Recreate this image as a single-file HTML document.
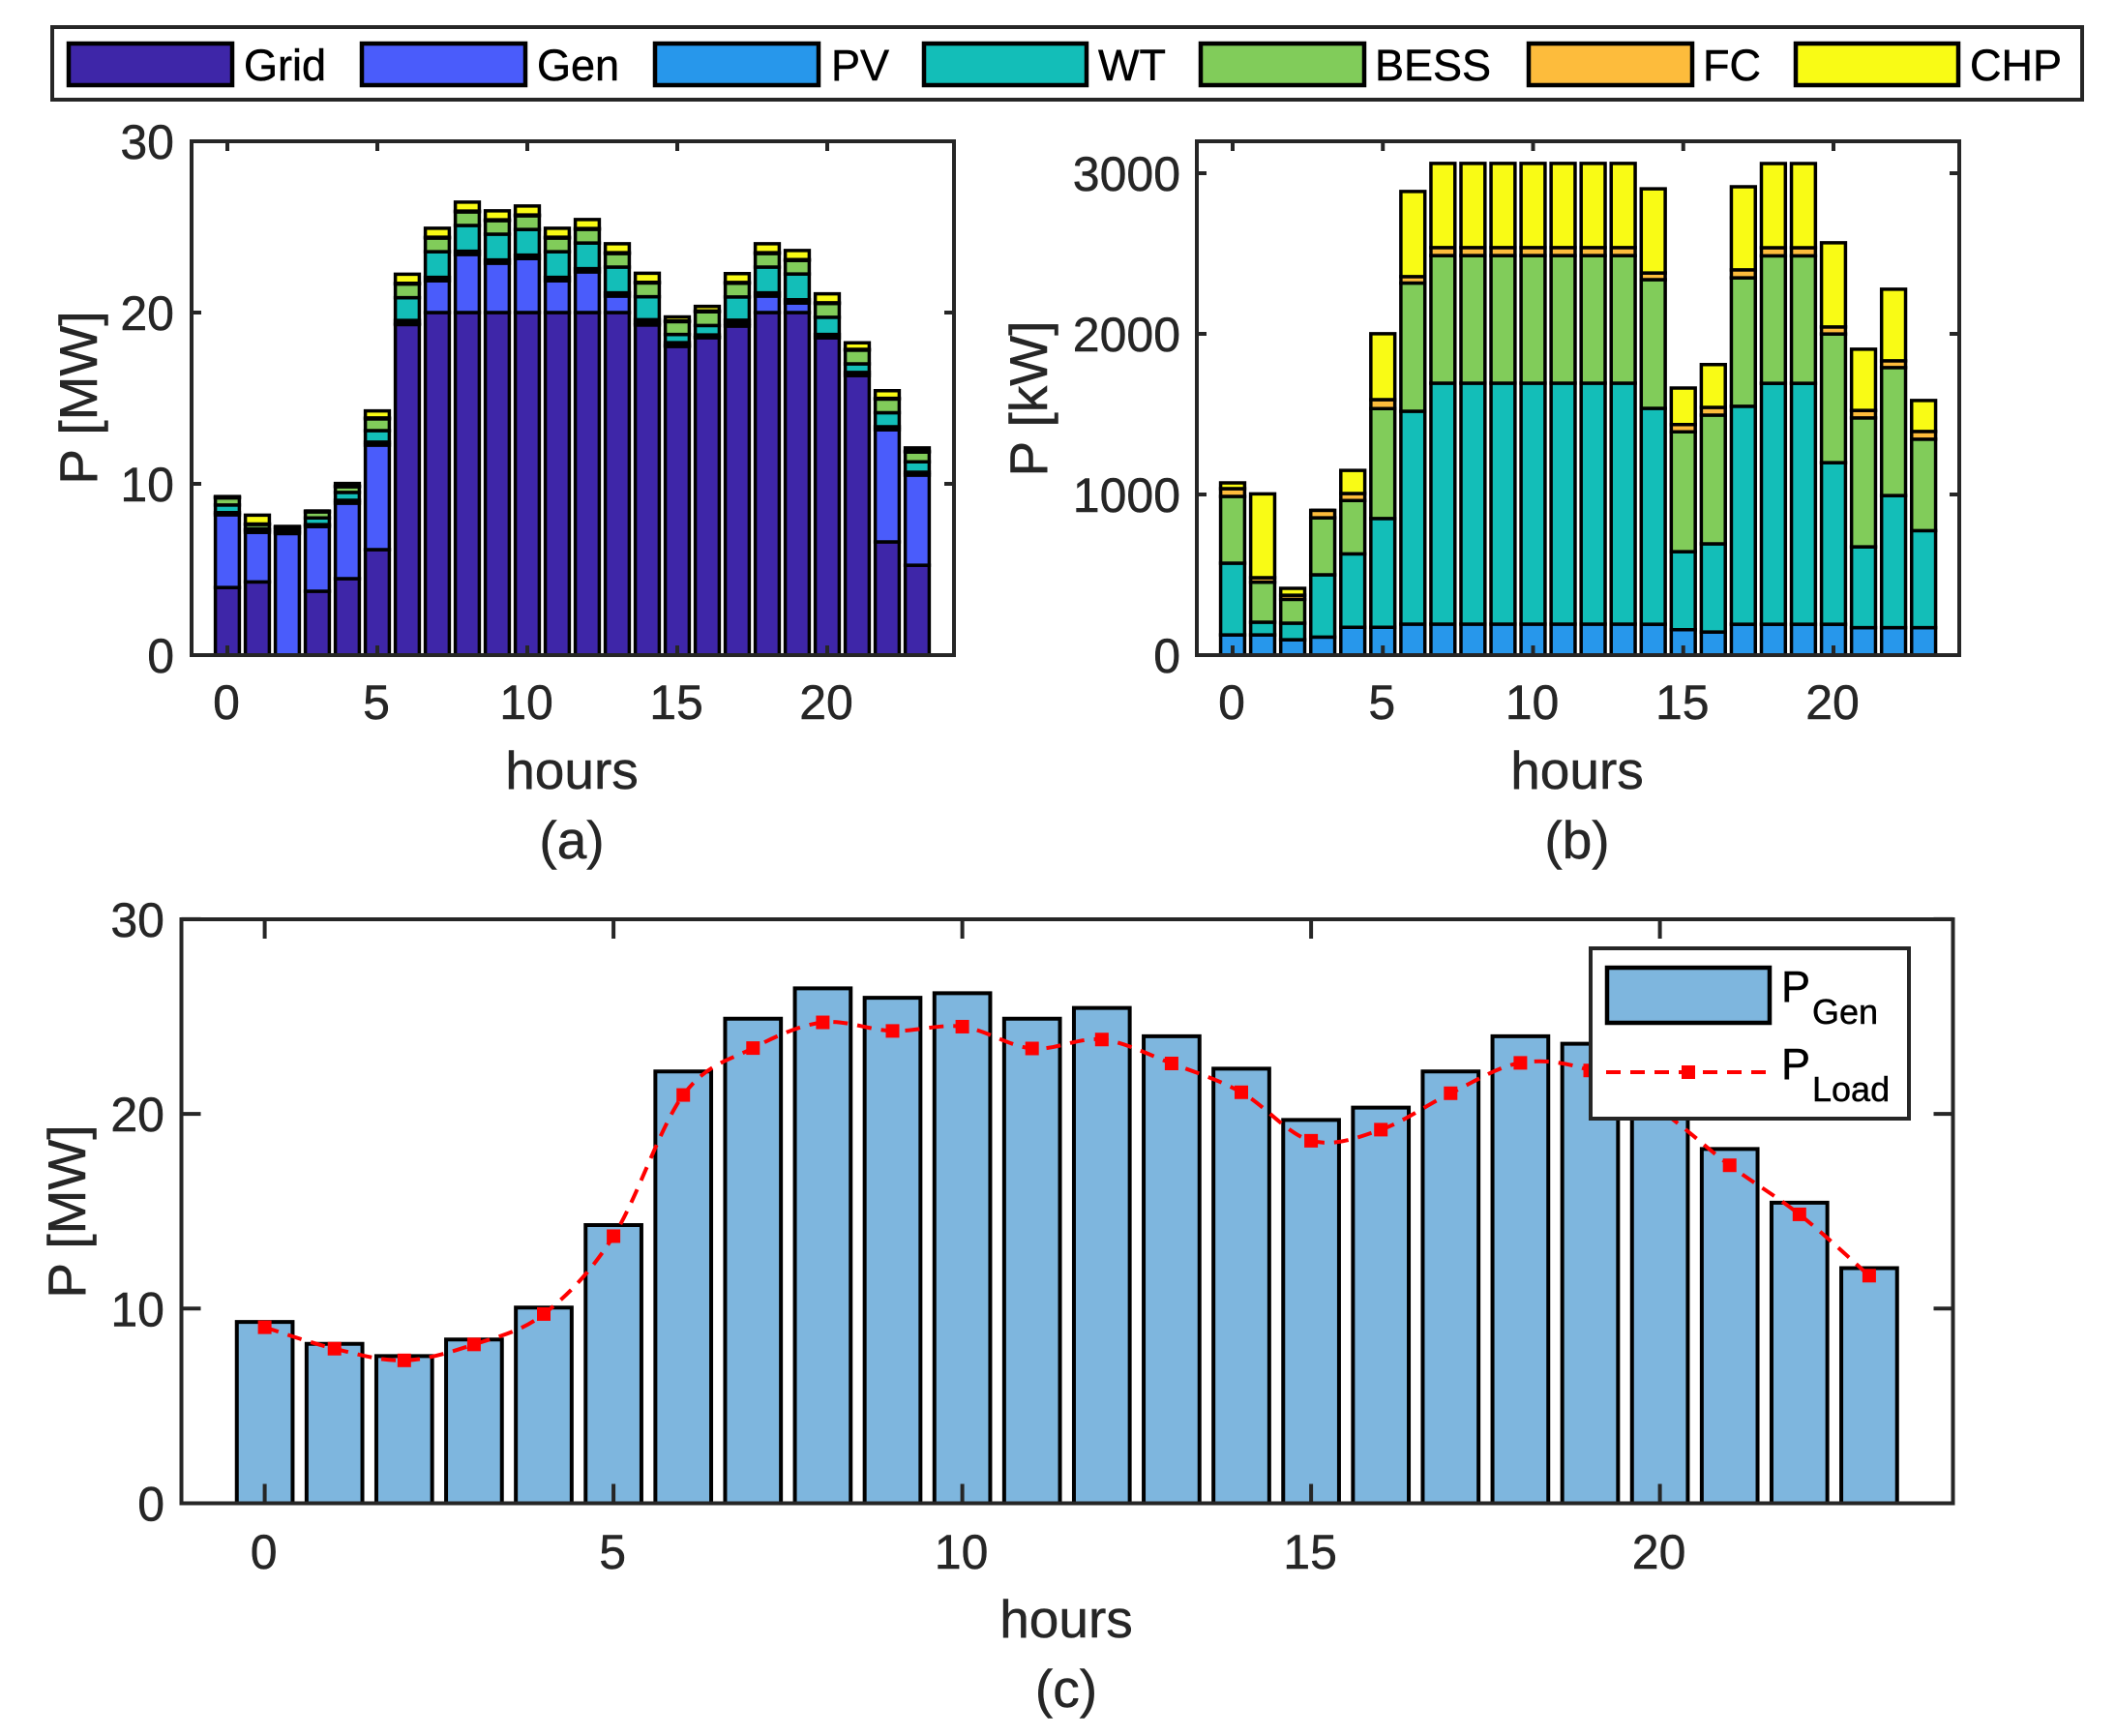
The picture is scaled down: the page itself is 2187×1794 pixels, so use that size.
<!DOCTYPE html>
<html lang="en">
<head>
<meta charset="utf-8">
<title>Power dispatch chart</title>
<style>
html,body{margin:0;padding:0;background:#fff;}
svg{display:block;}
text{font-family:"Liberation Sans",Arial,sans-serif;fill:#262626;stroke:#262626;stroke-width:.5px;}
.leg{font-size:45px;fill:#000;stroke:#000;}
.tick{font-size:50px;}
.lab{font-size:55px;}
.sub{font-size:36px;fill:#000;stroke:#000;}
</style>
</head>
<body>
<svg id="fig" xmlns="http://www.w3.org/2000/svg" width="2187" height="1794" viewBox="0 0 2187 1794">
  <rect x="0" y="0" width="2187" height="1794" fill="#fff"/>
  <g id="panelA"></g>
  <g id="panelB"></g>
  <g id="panelC"></g>

  <g>
    <rect x="54" y="28" width="2098" height="75" fill="#fff" stroke="#262626" stroke-width="4"/>
    <rect x="71" y="45" width="169" height="43" fill="#3E26A8" stroke="#000" stroke-width="4.5"/>
    <text class="leg" x="252" y="83">Grid</text>
    <rect x="374" y="45" width="169" height="43" fill="#4A5CFB" stroke="#000" stroke-width="4.5"/>
    <text class="leg" x="555" y="83">Gen</text>
    <rect x="677" y="45" width="169" height="43" fill="#2797EB" stroke="#000" stroke-width="4.5"/>
    <text class="leg" x="859" y="83">PV</text>
    <rect x="955" y="45" width="168" height="43" fill="#13BEB8" stroke="#000" stroke-width="4.5"/>
    <text class="leg" x="1135" y="83">WT</text>
    <rect x="1241" y="45" width="169" height="43" fill="#81CC5A" stroke="#000" stroke-width="4.5"/>
    <text class="leg" x="1421" y="83">BESS</text>
    <rect x="1580" y="45" width="169" height="43" fill="#FDBC3C" stroke="#000" stroke-width="4.5"/>
    <text class="leg" x="1760" y="83">FC</text>
    <rect x="1856" y="45" width="168" height="43" fill="#F9FB15" stroke="#000" stroke-width="4.5"/>
    <text class="leg" x="2036" y="83">CHP</text>
  </g>

  <g id="legendC">
    <rect x="1644" y="980" width="329" height="176" fill="#fff" stroke="#262626" stroke-width="4"/>
    <rect x="1661" y="1000" width="168" height="57" fill="#7EB6DE" stroke="#000" stroke-width="4.5"/>
    <text class="leg" x="1841" y="1035">P</text>
    <text class="sub" x="1873" y="1058">Gen</text>
    <line x1="1660" y1="1108" x2="1830" y2="1108" stroke="#f00" stroke-width="4" stroke-dasharray="15 10"/>
    <rect x="1738" y="1101" width="14" height="14" fill="#f00"/>
    <text class="leg" x="1841" y="1115">P</text>
    <text class="sub" x="1873" y="1138">Load</text>
  </g>
</svg>

<script>
// ---- data (hourly values) ----
const hours = [0,1,2,3,4,5,6,7,8,9,10,11,12,13,14,15,16,17,18,19,20,21,22,23];
// MW
const gridMW = [3.95,4.27,0,3.73,4.46,6.16,19.3,20,20,20,20,20,20,20,19.27,18.02,18.53,19.21,20,20,18.53,16.33,6.61,5.25];
const genMW  = [4.24,2.9,7.1,3.78,4.41,6.1,0.05,1.86,3.39,2.88,3.16,1.86,2.37,0.96,0.12,0.06,0.02,0.15,0.96,0.56,0,0,6.55,5.26];
// kW
const pvKW   = [126,126,96,112,173,173,193,193,193,193,193,193,193,193,192,158,144,192,192,192,192,171,171,171];
const wtKW   = [446,79,103,388,457,677,1325,1500,1500,1500,1500,1500,1500,1500,1344,486,549,1357,1500,1500,1006,503,822,604];
const bessKW = [416,249,148,355,332,685,798,794,794,794,794,794,794,794,801,746,801,800,794,794,801,803,797,569];
const fcKW   = [48,28,26,46,44,55,40,50,50,50,50,50,50,50,42,45,48,49,50,50,44,46,42,48];
const chpKW  = [36,522,43,0,144,411,530,524,524,524,524,524,524,524,524,228,267,518,524,524,524,381,446,193];
// panel (c)
const pGenMW  = [9.31,8.19,7.56,8.41,10.05,14.29,22.18,24.89,26.45,25.96,26.2,24.89,25.44,23.99,22.32,19.69,20.32,22.18,23.99,23.6,21.1,18.2,15.44,12.08];
const pLoadMW = [9.04,7.94,7.34,8.16,9.72,13.72,20.97,23.38,24.7,24.26,24.48,23.36,23.82,22.59,21.11,18.62,19.19,21.06,22.62,22.23,20.2,17.36,14.84,11.69];
// ticks
const xTicks = [0,5,10,15,20];
const yTicksAC = [0,10,20,30];
const yTicksB = [0,1000,2000,3000];

const seriesNames = ['grid','gen','pv','wt','bess','fc','chp'];
const seriesColors = ['#3E26A8','#4A5CFB','#2797EB','#13BEB8','#81CC5A','#FDBC3C','#F9FB15'];
const SVGNS = 'http://www.w3.org/2000/svg';

function mk(parent, tag, attrs, txt){
  const el = document.createElementNS(SVGNS, tag);
  for (const k in attrs) el.setAttribute(k, attrs[k]);
  if (txt !== undefined) el.textContent = txt;
  parent.appendChild(el);
  return el;
}
function scaleX(p, v){ return p.x0 + p.ux * v; }
function scaleY(p, v){ return p.y0 - p.uy * v; }

function barSeg(parent, p, h, v0, v1, fill, name){
  const w = p.ux * 0.4;
  const xc = scaleX(p, h);
  const d = 'M' + (xc-w) + ' ' + scaleY(p,v0) + 'H' + (xc+w) + 'V' + scaleY(p,v1) + 'H' + (xc-w) + 'Z';
  const el = mk(parent, 'path', {d:d, fill:fill, stroke:'#000', 'stroke-width':p.barLw, 'stroke-linejoin':'miter'});
  
  
  return el;
}

function axes(parent, p){
  const tl = p.tickLen;
  const yb = p.y0, yt = p.top, xl = p.left, xr = p.right;
  const frame = mk(parent, 'rect', {x:xl, y:yt, width:xr-xl, height:yb-yt, fill:'none', stroke:'#262626', 'stroke-width':p.lw});
  
  
  p.xTicks.forEach(function(t){
    const x = scaleX(p, t);
    const m1 = mk(parent, 'line', {x1:x, x2:x, y1:yb, y2:yb-tl, stroke:'#262626', 'stroke-width':p.lw});
    
    
    const m2 = mk(parent, 'line', {x1:x, x2:x, y1:yt, y2:yt+tl, stroke:'#262626', 'stroke-width':p.lw});
    
    
    const lb = mk(parent, 'text', {x:x-1, y:p.xLabelY, 'text-anchor':'middle', class:'tick'}, String(t));
    
    
  });
  p.yTicks.forEach(function(t){
    const y = scaleY(p, t);
    const m1 = mk(parent, 'line', {x1:xl, x2:xl+tl, y1:y, y2:y, stroke:'#262626', 'stroke-width':p.lw});
    
    
    const m2 = mk(parent, 'line', {x1:xr, x2:xr-tl, y1:y, y2:y, stroke:'#262626', 'stroke-width':p.lw});
    
    
    const lb = mk(parent, 'text', {x:p.yLabelX, y:y+18, 'text-anchor':'end', class:'tick'}, String(t));
    
    
  });
  const xt = mk(parent, 'text', {x:p.midX, y:p.xTitleY, 'text-anchor':'middle', class:'lab'}, 'hours');
  
  
  const cap = mk(parent, 'text', {x:p.midX, y:p.capY, 'text-anchor':'middle', class:'lab'}, p.caption);
  
  
  const yt2 = mk(parent, 'text', {transform:'translate(' + p.yTitleX + ' ' + p.yTitleY + ') rotate(-90)', 'text-anchor':'middle', class:'lab'}, p.yTitle);
  
  
}

function stackedPanel(groupId, p, seriesList, names, colors){
  const g = document.getElementById(groupId);
  hours.forEach(function(h, i){
    let base = 0;
    seriesList.forEach(function(s, k){
      const top = base + s[i];
      barSeg(g, p, h, base, top, colors[k], 'bar-' + names[k] + '-h' + h);
      base = top;
    });
  });
  axes(g, p);
}

const pA = {id:'panel-a', x0:235, ux:31, y0:677, uy:17.7, top:146, left:198, right:986, lw:4, barLw:3.5, tickLen:10,
  xTicks:xTicks, yTicks:yTicksAC, xLabelY:743, yLabelX:180, xTitleY:815, capY:887, midX:591,
  yTitleX:100, yTitleY:411, yTitle:'P [MW]', caption:'(a)'};
const pB = {id:'panel-b', x0:1274, ux:31.05, y0:677, uy:0.166, top:146, left:1237, right:2025, lw:4, barLw:3.5, tickLen:10,
  xTicks:xTicks, yTicks:yTicksB, xLabelY:743, yLabelX:1220, xTitleY:815, capY:887, midX:1630,
  yTitleX:1082, yTitleY:412, yTitle:'P [kW]', caption:'(b)'};
const pC = {id:'panel-c', x0:273.6, ux:72.1, y0:1553.5, uy:20.12, top:950, left:187.5, right:2018.5, lw:4, barLw:4, tickLen:20,
  xTicks:xTicks, yTicks:yTicksAC, xLabelY:1621, yLabelX:170, xTitleY:1692, capY:1764, midX:1102,
  yTitleX:88, yTitleY:1252, yTitle:'P [MW]', caption:'(c)'};

const toMW = function(a){ return a.map(function(v){ return v/1000; }); };
stackedPanel('panelA', pA, [gridMW, genMW, toMW(pvKW), toMW(wtKW), toMW(bessKW), toMW(fcKW), toMW(chpKW)], seriesNames, seriesColors);
stackedPanel('panelB', pB, [pvKW, wtKW, bessKW, fcKW, chpKW], seriesNames.slice(2), seriesColors.slice(2));

(function(){
  const g = document.getElementById('panelC');
  hours.forEach(function(h, i){
    barSeg(g, pC, h, 0, pGenMW[i], '#7EB6DE', 'bar-pgen-h' + h);
  });
  // smooth curve through the load points
  const pts = hours.map(function(h, i){ return [scaleX(pC, h), scaleY(pC, pLoadMW[i])]; });
  let d = 'M' + pts[0][0] + ' ' + pts[0][1];
  for (let i = 0; i < pts.length - 1; i++){
    const a = pts[Math.max(i-1,0)], b = pts[i], c = pts[i+1], e = pts[Math.min(i+2,pts.length-1)];
    d += 'C' + (b[0]+(c[0]-a[0])/6) + ' ' + (b[1]+(c[1]-a[1])/6) + ' ' +
         (c[0]-(e[0]-b[0])/6) + ' ' + (c[1]-(e[1]-b[1])/6) + ' ' + c[0] + ' ' + c[1];
  }
  const line = mk(g, 'path', {d:d, fill:'none', stroke:'#f00', 'stroke-width':4, 'stroke-dasharray':'15 10'});
  
  
  pts.forEach(function(pt, i){
    const m = mk(g, 'rect', {x:pt[0]-7, y:pt[1]-7, width:14, height:14, fill:'#f00'});
    
    
  });
  axes(g, pC);
})();
</script>
</body>
</html>
